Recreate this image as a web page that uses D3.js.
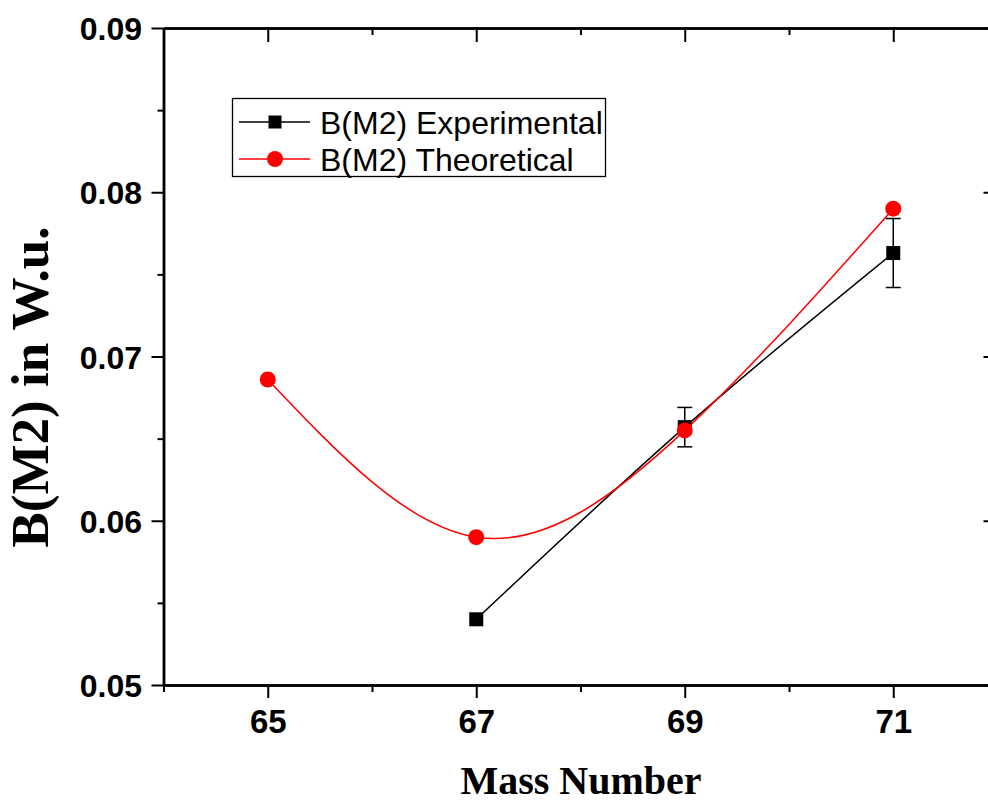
<!DOCTYPE html>
<html>
<head>
<meta charset="utf-8">
<script src="https://cdn.jsdelivr.net/npm/d3@7"></script>
<style>
    body { margin: 0; background: #fff; }
    svg { display: block; }
</style>
</head>
<body>
<div class="chart"></div>
<script>
// data
const expMass = [67, 69, 71];
const expValues = [0.0540, 0.0657, 0.0763];
const expErrors = [0, 0.0012, 0.0021];

const theoMass = [65, 67, 69, 71];
const theoValues = [0.0686, 0.0590, 0.0655, 0.0790];

const xMajor = [65, 67, 69, 71];
const xMinor = [64, 66, 68, 70, 72];
const yMajor = [0.05, 0.06, 0.07, 0.08, 0.09];
const yMinor = [0.055, 0.065, 0.075, 0.085];

const legendLabels = ['B(M2) Experimental', 'B(M2) Theoretical'];

let width = 988, height = 803;
let plot = {left: 163.5, right: 997.5, top: 28, bottom: 685};

let svg = d3.select('.chart')
    .append('svg')
    .attr('width', width)
    .attr('height', height);

let x = d3.scaleLinear().domain([64, 72]).range([plot.left, plot.right]);
let y = d3.scaleLinear().domain([0.05, 0.09]).range([plot.bottom, plot.top]);

const sansBold = "'Liberation Sans', Arial, sans-serif";
const serif = "'Liberation Serif', 'Times New Roman', serif";

// axes
let styleAxis = g => {
    g.select('.domain').attr('stroke', '#000').attr('stroke-width', 2.5);
    g.selectAll('.tick line').attr('stroke', '#000').attr('stroke-width', 2);
};

// bottom
svg.append('g')
    .attr('transform', 'translate(0,' + plot.bottom + ')')
    .call(d3.axisBottom(x).tickValues(xMinor).tickSize(7).tickSizeOuter(0).tickFormat(''))
    .call(styleAxis);
let bottomAxis = svg.append('g')
    .attr('transform', 'translate(0,' + plot.bottom + ')')
    .call(d3.axisBottom(x).tickValues(xMajor).tickSize(13).tickSizeOuter(0).tickFormat(d3.format('d')))
    .call(styleAxis);
bottomAxis.selectAll('text')
    .attr('y', 48)
    .attr('dy', 0)
    .style('font-family', sansBold)
    .style('font-weight', 'bold')
    .style('font-size', '33px')
    .attr('fill', '#000');

// left
svg.append('g')
    .attr('transform', 'translate(' + plot.left + ',0)')
    .call(d3.axisLeft(y).tickValues(yMinor).tickSize(6).tickSizeOuter(0).tickFormat(''))
    .call(styleAxis);
let leftAxis = svg.append('g')
    .attr('transform', 'translate(' + plot.left + ',0)')
    .call(d3.axisLeft(y).tickValues(yMajor).tickSize(12).tickSizeOuter(0).tickFormat(d3.format('.2f')))
    .call(styleAxis);
leftAxis.selectAll('text')
    .attr('x', -21.5)
    .attr('dy', '0.36em')
    .style('font-family', sansBold)
    .style('font-weight', 'bold')
    .style('font-size', '32px')
    .attr('fill', '#000');

// top (ticks inward)
svg.append('g')
    .attr('transform', 'translate(0,' + plot.top + ')')
    .call(d3.axisBottom(x).tickValues(xMinor).tickSize(7).tickSizeOuter(0).tickFormat(''))
    .call(styleAxis);
svg.append('g')
    .attr('transform', 'translate(0,' + plot.top + ')')
    .call(d3.axisBottom(x).tickValues(xMajor).tickSize(14).tickSizeOuter(0).tickFormat(''))
    .call(styleAxis);

// right (ticks inward)
svg.append('g')
    .attr('transform', 'translate(' + plot.right + ',0)')
    .call(d3.axisLeft(y).tickValues(yMinor).tickSize(7).tickSizeOuter(0).tickFormat(''))
    .call(styleAxis);
svg.append('g')
    .attr('transform', 'translate(' + plot.right + ',0)')
    .call(d3.axisLeft(y).tickValues(yMajor).tickSize(14).tickSizeOuter(0).tickFormat(''))
    .call(styleAxis);

// axis titles
svg.append('text')
    .attr('x', 581)
    .attr('y', 794)
    .attr('text-anchor', 'middle')
    .style('font-family', serif)
    .style('font-weight', 'bold')
    .style('font-size', '40px')
    .text('Mass Number');

svg.append('text')
    .attr('text-anchor', 'middle')
    .attr('transform', 'translate(48,387)rotate(-90)')
    .style('font-family', serif)
    .style('font-weight', 'bold')
    .style('font-size', '53px')
    .text('B(M2) in W.u.');

// series
let expData = expMass.map((m, i) => ({m: m, v: expValues[i], e: expErrors[i]}));
let theoData = theoMass.map((m, i) => ({m: m, v: theoValues[i]}));

let line = d3.line()
    .x(d => x(d.m))
    .y(d => y(d.v))
    .curve(d3.curveNatural);

svg.append('path')
    .datum(expData)
    .attr('d', line)
    .attr('fill', 'none')
    .attr('stroke', '#000')
    .attr('stroke-width', 1.5);

// error bars
let errs = svg.append('g')
    .attr('stroke', '#000')
    .attr('stroke-width', 1.5)
    .selectAll('g')
    .data(expData.filter(d => d.e > 0))
    .enter()
    .append('g');
errs.append('line')
    .attr('x1', d => x(d.m)).attr('x2', d => x(d.m))
    .attr('y1', d => y(d.v - d.e)).attr('y2', d => y(d.v + d.e));
errs.append('line')
    .attr('x1', d => x(d.m) - 7.5).attr('x2', d => x(d.m) + 7.5)
    .attr('y1', d => y(d.v + d.e)).attr('y2', d => y(d.v + d.e));
errs.append('line')
    .attr('x1', d => x(d.m) - 7.5).attr('x2', d => x(d.m) + 7.5)
    .attr('y1', d => y(d.v - d.e)).attr('y2', d => y(d.v - d.e));

svg.append('g')
    .selectAll('rect')
    .data(expData)
    .enter()
    .append('rect')
    .attr('x', d => x(d.m) - 7)
    .attr('y', d => y(d.v) - 7)
    .attr('width', 14)
    .attr('height', 14)
    .attr('fill', '#000');

svg.append('path')
    .datum(theoData)
    .attr('d', line)
    .attr('fill', 'none')
    .attr('stroke', '#ff0000')
    .attr('stroke-width', 1.5);

svg.append('g')
    .selectAll('circle')
    .data(theoData)
    .enter()
    .append('circle')
    .attr('cx', d => x(d.m))
    .attr('cy', d => y(d.v))
    .attr('r', 8)
    .attr('fill', '#ff0000');

// legend
let legend = svg.append('g');
legend.append('rect')
    .attr('x', 232.5)
    .attr('y', 98.5)
    .attr('width', 373)
    .attr('height', 78)
    .attr('fill', '#fff')
    .attr('stroke', '#000')
    .attr('stroke-width', 1.3);

let rows = [122, 159];
let colors = ['#000', '#ff0000'];
rows.forEach((ry, i) => {
    legend.append('line')
        .attr('x1', 239).attr('x2', 310)
        .attr('y1', ry).attr('y2', ry)
        .attr('stroke', colors[i])
        .attr('stroke-width', 1.5);
    if (i === 0) {
        legend.append('rect')
            .attr('x', 275 - 6.5).attr('y', ry - 6.5)
            .attr('width', 13).attr('height', 13)
            .attr('fill', '#000');
    } else {
        legend.append('circle')
            .attr('cx', 275).attr('cy', ry)
            .attr('r', 8)
            .attr('fill', '#ff0000');
    }
    legend.append('text')
        .attr('x', 320)
        .attr('y', ry)
        .attr('dy', '0.36em')
        .style('font-family', "'Liberation Sans', Arial, sans-serif")
        .style('font-size', '32px')
        .text(legendLabels[i]);
});
</script>
</body>
</html>
